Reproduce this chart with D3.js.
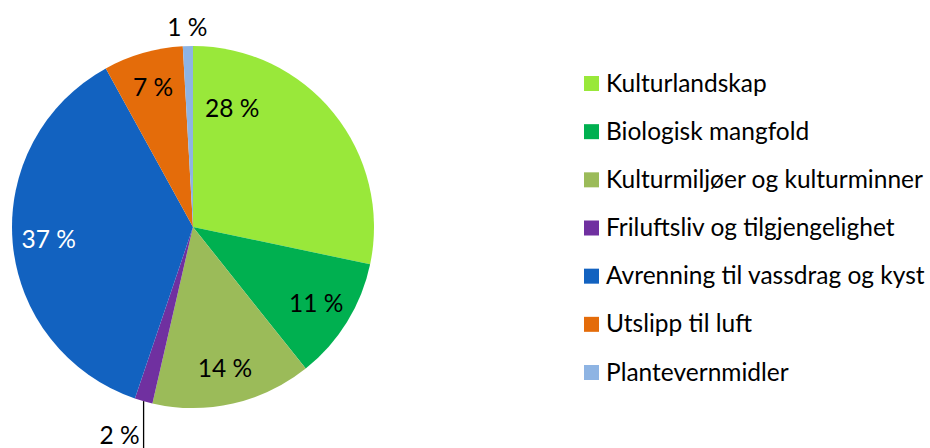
<!DOCTYPE html>
<html>
<head>
<meta charset="utf-8">
<script src="https://cdn.jsdelivr.net/npm/d3@7"></script>
<style>
  body { margin: 0; background: #fff; }
  svg { display: block; font-family: Lato, "Liberation Sans", sans-serif; }
</style>
</head>
<body>
<div id="chart"></div>
<script>
var categories = ["Kulturlandskap", "Biologisk mangfold", "Kulturmiljøer og kulturminner",
    "Friluftsliv og tilgjengelighet", "Avrenning til vassdrag og kyst", "Utslipp til luft", "Plantevernmidler"];
var shares = [28.3, 11.0, 14.3, 1.6, 36.8, 7.1, 0.9];
var colors = ["#99E83A", "#00B050", "#9BBB59", "#7030A0", "#1262C0", "#E46C0A", "#8EB4E3"];

var width = 930, height = 448;
var cx = 193, cy = 227, radius = 181;
var fontSize = 24.5;

var dataset = categories.map(function (c, i) {
    return {name: c, value: shares[i], color: colors[i]};
});

var svg = d3.select("#chart").append("svg")
    .attr("width", width)
    .attr("height", height);

var pie = d3.pie().sort(null).value(d => d.value);
var arc = d3.arc().innerRadius(0).outerRadius(radius);
var arcs = pie(dataset);

var g = svg.append("g").attr("transform", "translate(" + cx + "," + cy + ")");

g.selectAll("path").data(arcs).enter().append("path")
    .attr("d", arc)
    .attr("fill", d => d.data.color);

// label placement: inside for big slices, outside for small ones
var fmt = d => Math.round(d) + " %";
function polar(a, r) { return [Math.sin(a) * r, -Math.cos(a) * r]; }

arcs.forEach(function (d, i) {
    var mid = (d.startAngle + d.endAngle) / 2;
    var txt = g.append("text")
        .attr("font-size", fontSize)
        .attr("dy", "0.35em")
        .text(fmt(d.data.value));
    if (d.data.value < 1.2) {
        var p = polar(mid, radius + 19);
        txt.attr("x", p[0]).attr("y", p[1]).attr("text-anchor", "middle").attr("fill", "#000");
    } else if (d.data.value < 3) {
        var e = polar(mid, radius);
        g.append("line")
            .attr("x1", e[0]).attr("y1", e[1])
            .attr("x2", e[0]).attr("y2", height - cy + 2)
            .attr("stroke", "#000").attr("stroke-width", 1.3);
        txt.attr("x", e[0] - 4).attr("y", height - cy - 4)
            .attr("dy", null)
            .attr("text-anchor", "end").attr("fill", "#000");
    } else {
        // first slice label is sitting nearer the top in the original
        var a = i === 0 ? d.startAngle + (d.endAngle - d.startAngle) * 0.18 : mid;
        var r = i === 0 ? radius * 0.69 : radius * 0.8;
        var q = polar(a, r);
        txt.attr("x", q[0]).attr("y", q[1]).attr("text-anchor", "middle")
            .attr("fill", d.data.color === "#1262C0" ? "#fff" : "#000");
    }
});

// legend
var legendY = d3.scalePoint().domain(categories).range([83, 372]);
var legend = svg.append("g").selectAll("g").data(dataset).enter().append("g")
    .attr("transform", d => "translate(584," + legendY(d.name) + ")");

legend.append("rect")
    .attr("x", 0).attr("y", -7)
    .attr("width", 15).attr("height", 15)
    .attr("fill", d => d.color);

legend.append("text")
    .attr("x", 22)
    .attr("dy", "0.35em")
    .attr("font-size", fontSize)
    .attr("fill", "#000")
    .text(d => d.name);
</script>
</body>
</html>
